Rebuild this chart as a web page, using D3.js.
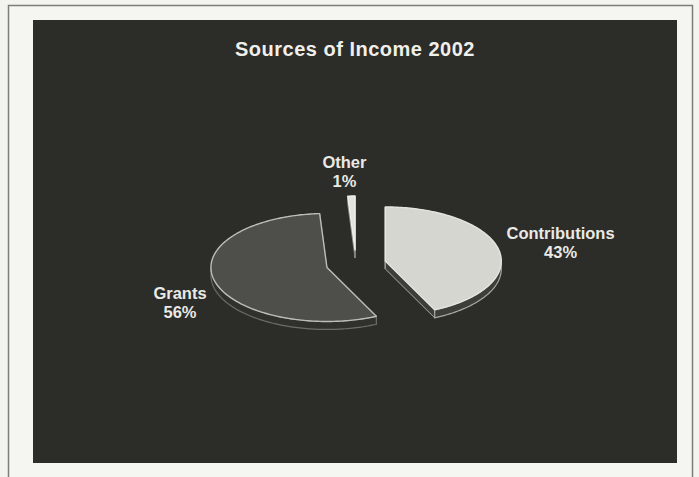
<!DOCTYPE html>
<html>
<head>
<meta charset="utf-8">
<script src="https://cdn.jsdelivr.net/npm/d3@7"></script>
<style>
  html, body { margin: 0; padding: 0; background: #f3f3f0; }
  svg { display: block; }
</style>
</head>
<body>
<script>
// data
var categories = ["Contributions", "Grants", "Other"];
var shares = [43, 56, 1];
var titleText = "Sources of Income 2002";

var W = 699, H = 477;

// pie geometry (3D tilted, exploded)
var cx = 356, cy = 264, rx = 116, ry = 54, depth = 8, explode = 30;

var topFill  = d3.scaleOrdinal(categories, ["#d6d6d1", "#4e4e4a", "#e2e2de"]);
var sideFill = d3.scaleOrdinal(categories, ["#3d3d3a", "#30302d", "#5a5a56"]);
var edgeCol  = d3.scaleOrdinal(categories, ["#e4e4e0", "#bdbdb8", "#eeeeea"]);
var sideEdge = d3.scaleOrdinal(categories, ["#a9a9a4", "#6c6c68", "#888884"]);

var svg = d3.select("body").append("svg")
  .attr("width", W)
  .attr("height", H);

// outer frame and dark panel
svg.append("rect")
  .attr("x", 8.5).attr("y", 5.5)
  .attr("width", 684).attr("height", 480)
  .attr("fill", "#f5f5f2")
  .attr("stroke", "#7c7c79")
  .attr("stroke-width", 1.5);

svg.append("rect")
  .attr("x", 33).attr("y", 20)
  .attr("width", 644).attr("height", 443)
  .attr("fill", "#2c2c29");

svg.append("text")
  .attr("x", 355).attr("y", 56)
  .attr("text-anchor", "middle")
  .attr("font-family", "Liberation Sans, Arial, sans-serif")
  .attr("font-weight", "bold")
  .attr("font-size", 20)
  .attr("letter-spacing", 0.5)
  .attr("fill", "#efefec")
  .text(titleText);

var pie = d3.pie().sort(null).value(function (d) { return d.v; });
var slices = pie(categories.map(function (c, i) { return { name: c, v: shares[i] }; }));

// centre of each exploded slice
slices.forEach(function (s) {
  var mid = (s.startAngle + s.endAngle) / 2;
  s.mid = mid;
  s.ox = cx + explode * Math.sin(mid);
  s.oy = cy - explode * Math.cos(mid) * (ry / rx);
});

function pt(s, a, dz) {
  return [s.ox + rx * Math.sin(a), s.oy - ry * Math.cos(a) + (dz || 0)];
}

function arcPts(s, a0, a1, dz) {
  var n = Math.max(2, Math.ceil(Math.abs(a1 - a0) / 0.02));
  var out = [];
  for (var i = 0; i <= n; i++) out.push(pt(s, a0 + (a1 - a0) * i / n, dz));
  return out;
}

var line = d3.line();

// radial walls
slices.forEach(function (s) {
  [s.startAngle, s.endAngle].forEach(function (a) {
    var p = pt(s, a, 0);
    var quad = [[s.ox, s.oy], p, [p[0], p[1] + depth], [s.ox, s.oy + depth]];
    svg.append("path")
      .attr("d", line(quad) + "Z")
      .attr("fill", sideFill(s.data.name))
      .attr("stroke", sideEdge(s.data.name))
      .attr("stroke-width", 1);
  });
});

// outer (front) walls
slices.forEach(function (s) {
  var lo = Math.max(s.startAngle, Math.PI / 2);
  var hi = Math.min(s.endAngle, 3 * Math.PI / 2);
  if (lo >= hi) return;
  var pts = arcPts(s, lo, hi, 0).concat(arcPts(s, hi, lo, depth));
  svg.append("path")
    .attr("d", line(pts) + "Z")
    .attr("fill", sideFill(s.data.name))
    .attr("stroke", sideEdge(s.data.name))
    .attr("stroke-width", 1.2);
});

// top faces
slices.forEach(function (s) {
  var pts = [[s.ox, s.oy]].concat(arcPts(s, s.startAngle, s.endAngle, 0));
  svg.append("path")
    .attr("d", line(pts) + "Z")
    .attr("fill", topFill(s.data.name))
    .attr("stroke", edgeCol(s.data.name))
    .attr("stroke-width", 1.4)
    .attr("stroke-linejoin", "round");
});

// labels: centred two-line block just outside each slice
var labelNudge = { "Contributions": -7, "Grants": 21, "Other": -25 };
var gap = 8;
slices.forEach(function (s) {
  var sn = Math.sin(s.mid), cs = Math.cos(s.mid);
  var ex = s.ox + rx * sn;
  var y = s.oy - ry * cs + labelNudge[s.data.name];
  var t = svg.append("text")
    .attr("text-anchor", "middle")
    .attr("font-family", "Liberation Sans, Arial, sans-serif")
    .attr("font-weight", "bold")
    .attr("font-size", 16.5)
    .attr("fill", "#e9e9e6");
  var t1 = t.append("tspan").attr("dy", -3).text(s.data.name);
  var w = t1.node().getComputedTextLength();
  var x;
  if (sn > 0.3) x = ex + gap + w / 2;
  else if (sn < -0.3) x = ex - gap - w / 2;
  else x = ex - 7;
  t.attr("x", x).attr("y", y);
  t1.attr("x", x);
  t.append("tspan").attr("x", x).attr("dy", 19)
    .text(Math.round(s.data.v) + "%");
});
</script>
</body>
</html>
